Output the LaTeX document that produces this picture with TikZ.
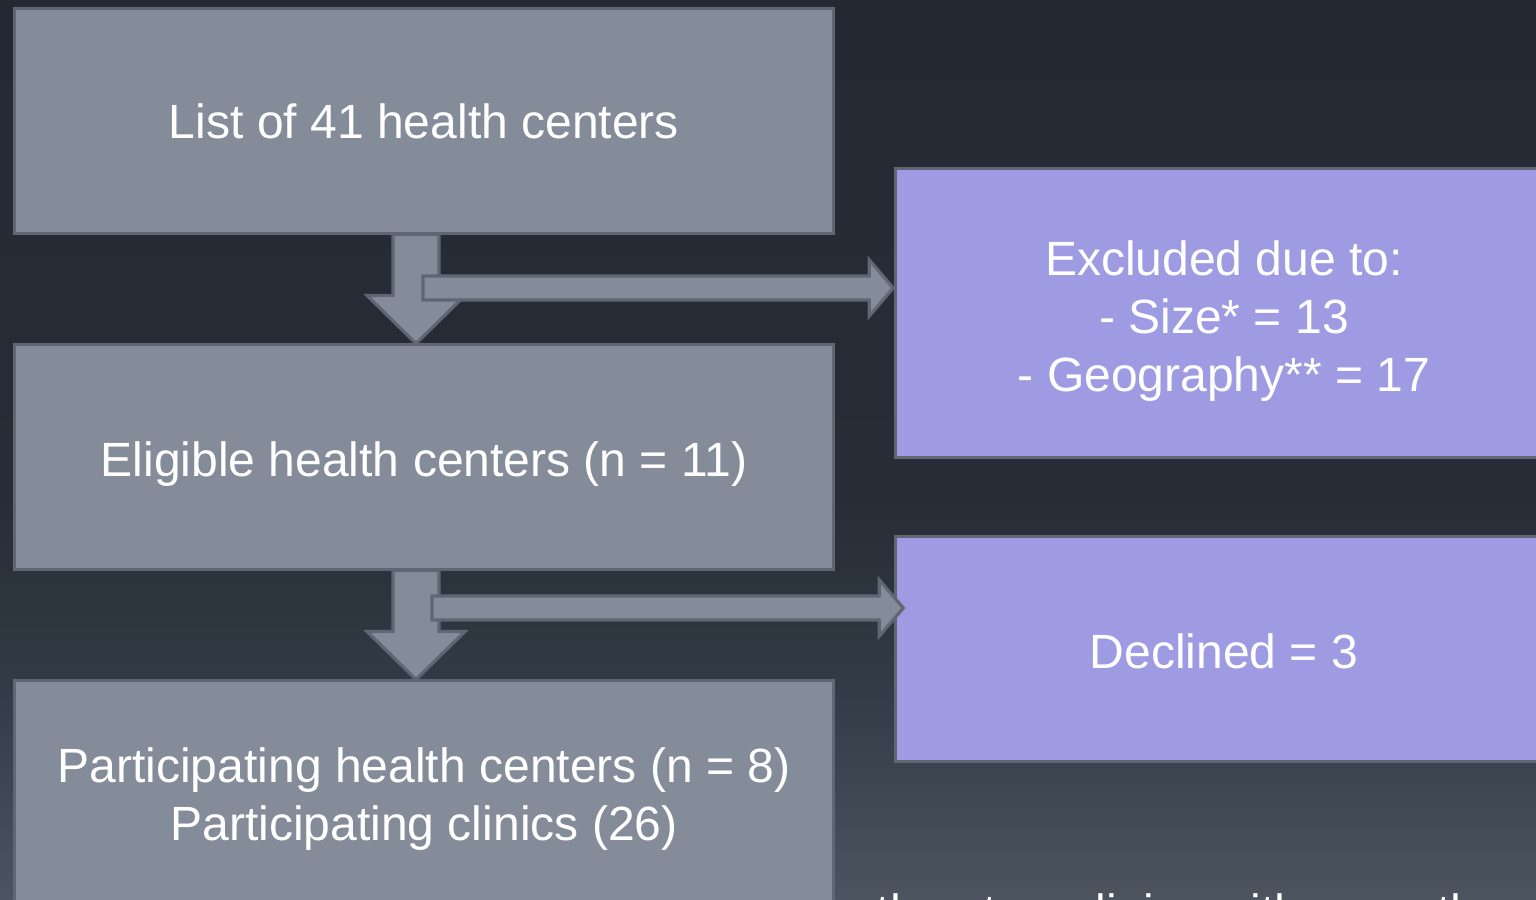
\documentclass[tikz,border=0pt]{standalone}
\usepackage{fontspec}
\setmainfont{Liberation Sans}
\usetikzlibrary{calc}

\definecolor{boxgray}{HTML}{848C9A}
\definecolor{edgegray}{HTML}{5F6774}
\definecolor{lilac}{HTML}{9F9BE3}
\definecolor{bgtop}{HTML}{232A33}
\definecolor{bgmid}{HTML}{262D36}
\definecolor{bglow}{HTML}{323B45}
\definecolor{bgbot}{HTML}{4C555F}

% invisible tall first line, pushes the text block down a little
\newcommand{\lift}[1]{\rule{0pt}{#1}}

% fat downward arrow from the bottom of #1 to the top of #2
\newcommand{\downblock}[2]{%
  \draw[blockarrow] ($(#1.south)+(-31,0)$) -- ($(#1.south)+(15,0)$)
    -- ($(#2.north)+(15,-48)$) -- ($(#2.north)+(41,-48)$) -- ($(#2.north)+(-8,0)$)
    -- ($(#2.north)+(-57,-48)$) -- ($(#2.north)+(-31,-48)$) -- cycle;}

% fat arrow to the right, from coordinate #1 to tip #2
\newcommand{\sideblock}[2]{%
  \draw[blockarrow] ($(#1)+(0,-12)$) -- ($(#2)+(-24,-12)$) -- ($(#2)+(-24,-28)$) -- (#2)
    -- ($(#2)+(-24,28)$) -- ($(#2)+(-24,12)$) -- ($(#1)+(0,12)$) -- cycle;}

\begin{document}
\begin{tikzpicture}[
    x=0.01cm, y=-0.01cm,
    box/.style={draw=edgegray, fill=#1, line width=0.85pt, text=white, align=center,
                inner sep=0pt, font=\fontsize{13.66}{16.4}\selectfont},
    greybox/.style={box=boxgray, minimum width=8.18cm, minimum height=2.24cm},
    lilacbox/.style={box=lilac, minimum width=6.56cm},
    blockarrow/.style={draw=edgegray, fill=boxgray, line width=0.9pt, line join=miter}
]

% ── Background ───────────────────────────────────────────────────────────────
\useasboundingbox (0,0) rectangle (1536,900);
\clip (0,0) rectangle (1536,900);
\shade[top color=bgtop, bottom color=bgmid] (0,0) rectangle (1536,501);
\shade[top color=bgmid, bottom color=bglow] (0,500) rectangle (1536,681);
\shade[top color=bglow, bottom color=bgbot] (0,680) rectangle (1536,900);

% ── Main column ──────────────────────────────────────────────────────────────
\node[greybox] (list) at (424,121) {List of 41 health centers};
\node[greybox] (eligible) at (424,457) {\lift{0.49cm}Eligible health centers (n = 11)};
\node[greybox] (part) at (424,793)
    {\lift{0.47cm}Participating health centers (n = 8)\\Participating clinics (26)};

% ── Side boxes ───────────────────────────────────────────────────────────────
\node[lilacbox, minimum height=2.88cm] (excl) at (1224,313)
    {\lift{0.51cm}Excluded due to:\\- Size* = 13\\- Geography** = 17};
\node[lilacbox, minimum height=2.24cm] (decl) at (1224,649) {\lift{0.39cm}Declined = 3};

% ── Arrows ───────────────────────────────────────────────────────────────────
\downblock{list}{eligible}
\downblock{eligible}{part}

\coordinate (out1) at (423,288);
\coordinate (out2) at (432,608);
\sideblock{out1}{$(excl.west)+(-1,-25)$}
\sideblock{out2}{$(decl.west)+(9,-41)$}

% ── Footnote (runs off the bottom) ───────────────────────────────────────────
\node[anchor=base west, inner sep=0pt, text=white, font=\fontsize{13.66}{16.4}\selectfont]
    (note) at (876,928) {than two clinics with more than};

\end{tikzpicture}
\end{document}
